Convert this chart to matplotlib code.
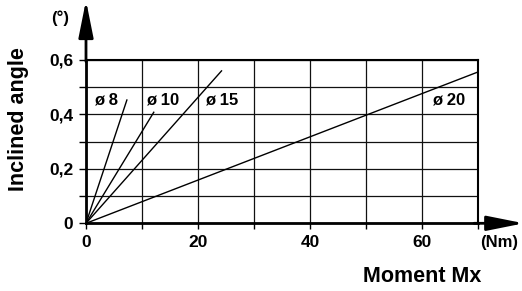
import numpy as np
import matplotlib
matplotlib.use('Agg')
import matplotlib.pyplot as plt

plt.rcParams['font.family'] = ['Liberation Sans', 'DejaVu Sans']
plt.rcParams['font.weight'] = 'bold'

# line end points (Nm, degrees), every line starts at the origin
labels = ['ø 8', 'ø 10', 'ø 15', 'ø 20']
end_x = [7.3, 12.1, 24.2, 70.0]
end_y = [0.453, 0.408, 0.56, 0.556]
label_x = [3.6, 13.6, 24.3, 64.8]
label_y = [0.453, 0.453, 0.453, 0.453]

xticks = [0, 10, 20, 30, 40, 50, 60, 70]
xticklabels = ['0', '', '20', '', '40', '', '60', '']
yticks = [0, 0.1, 0.2, 0.3, 0.4, 0.5, 0.6]
yticklabels = ['0', '', '0,2', '', '0,4', '', '0,6']

fig = plt.figure(figsize=(5.22, 2.91), dpi=100)
ax = fig.add_axes([86/522, 1-223.3/291, 392/522, 163.3/291])

for i in range(len(labels)):
    ax.plot([0, end_x[i]], [0, end_y[i]], color='black', lw=1.0)
    ax.text(label_x[i], label_y[i], labels[i], ha='center', va='center',
            fontsize=12, fontweight='bold')

ax.set_xlim(0, 70)
ax.set_ylim(0, 0.6)
ax.set_xticks(xticks)
ax.set_xticklabels(xticklabels)
ax.set_yticks(yticks)
ax.set_yticklabels(yticklabels)
ax.tick_params(axis='x', length=4.5, width=1, labelsize=12.5, pad=4)
ax.tick_params(axis='y', length=5, width=1, labelsize=12.5, pad=4)
ax.grid(True, color='#111111', lw=0.9)
ax.set_axisbelow(True)

ax.spines['left'].set_linewidth(2)
ax.spines['bottom'].set_linewidth(2)
ax.spines['top'].set_linewidth(1.5)
ax.spines['right'].set_linewidth(1.5)

# axis arrows
ax.annotate('', xy=(0, 1.365), xycoords='axes fraction', xytext=(0, 0.99),
            arrowprops=dict(arrowstyle='-|>,head_length=1.5,head_width=0.3',
                            mutation_scale=15, color='black', lw=2, shrinkA=0, shrinkB=0))
ax.annotate('', xy=(1.117, 0), xycoords='axes fraction', xytext=(0.99, 0),
            arrowprops=dict(arrowstyle='-|>,head_length=1.5,head_width=0.3',
                            mutation_scale=15, color='black', lw=2, shrinkA=0, shrinkB=0))

fig.text(60/522, 1-18/291, '(°)', ha='center', va='center', fontsize=12, fontweight='bold')
fig.text(499/522, 1-243/291, '(Nm)', ha='center', va='center', fontsize=12, fontweight='bold')
fig.text(422/522, 1-277/291, 'Moment Mx', ha='center', va='center', fontsize=15.5, fontweight='bold')
fig.text(19/522, 1-119/291, 'Inclined angle', ha='center', va='center', rotation=90,
         fontsize=15.5, fontweight='bold')

fig.savefig('out.png', dpi=100)
